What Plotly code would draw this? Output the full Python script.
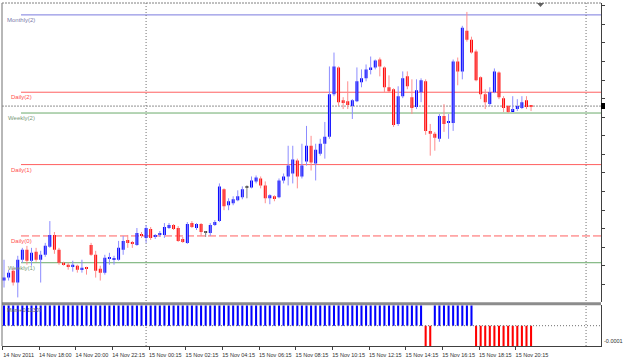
import plotly.graph_objects as go

# ---------------- data (15-minute candles, 14-15 Nov 2011) ----------------
opens = [1.3517, 1.3520, 1.3527, 1.3515, 1.3538, 1.3548, 1.3537, 1.3546, 1.3538, 1.3543,
         1.3551, 1.3563, 1.3548, 1.3535, 1.3533, 1.3531, 1.3532, 1.3528, 1.3530, 1.3553,
         1.3543, 1.3529, 1.3525, 1.3539, 1.3538, 1.3538, 1.3548, 1.3558, 1.3555, 1.3553,
         1.3564, 1.3560, 1.3569, 1.3561, 1.3563, 1.3563, 1.3570, 1.3573, 1.3570, 1.3559,
         1.3555, 1.3575, 1.3570, 1.3574, 1.3565, 1.3565, 1.3573, 1.3577, 1.3609, 1.3593,
         1.3595, 1.3598, 1.3601, 1.3611, 1.3611, 1.3617, 1.3620, 1.3613, 1.3600, 1.3602,
         1.3601, 1.3618, 1.3622, 1.3625, 1.3638, 1.3622, 1.3637, 1.3653, 1.3635, 1.3645,
         1.3655, 1.3662, 1.3705, 1.3732, 1.3699, 1.3698, 1.3693, 1.3698, 1.3717, 1.3721,
         1.3730, 1.3732, 1.3740, 1.3732, 1.3712, 1.3710, 1.3675, 1.3703, 1.3723, 1.3702,
         1.3692, 1.3707, 1.3718, 1.3668, 1.3665, 1.3660, 1.3683, 1.3676, 1.3676, 1.3738,
         1.3728, 1.3769, 1.3760, 1.3748, 1.3722, 1.3705, 1.3695, 1.3707, 1.3727, 1.3701,
         1.3693, 1.3688, 1.3690, 1.3691, 1.3699, 1.3694]
highs = [1.3538, 1.3528, 1.3530, 1.3542, 1.3550, 1.3552, 1.3550, 1.3550, 1.3547, 1.3555,
         1.3577, 1.3566, 1.3550, 1.3536, 1.3535, 1.3537, 1.3533, 1.3538, 1.3531, 1.3555,
         1.3547, 1.3532, 1.3543, 1.3545, 1.3542, 1.3557, 1.3562, 1.3563, 1.3557, 1.3570,
         1.3566, 1.3573, 1.3571, 1.3564, 1.3567, 1.3575, 1.3575, 1.3574, 1.3572, 1.3561,
         1.3576, 1.3577, 1.3575, 1.3575, 1.3567, 1.3575, 1.3578, 1.3615, 1.3610, 1.3600,
         1.3602, 1.3608, 1.3612, 1.3613, 1.3622, 1.3623, 1.3622, 1.3617, 1.3604, 1.3603,
         1.3620, 1.3625, 1.3653, 1.3653, 1.3640, 1.3655, 1.3673, 1.3663, 1.3655, 1.3660,
         1.3677, 1.3733, 1.3747, 1.3733, 1.3702, 1.3718, 1.3700, 1.3732, 1.3730, 1.3735,
         1.3743, 1.3740, 1.3742, 1.3733, 1.3724, 1.3711, 1.3713, 1.3728, 1.3728, 1.3720,
         1.3720, 1.3721, 1.3720, 1.3675, 1.3667, 1.3685, 1.3695, 1.3685, 1.3740, 1.3742,
         1.3774, 1.3788, 1.3763, 1.3750, 1.3723, 1.3710, 1.3712, 1.3731, 1.3728, 1.3703,
         1.3694, 1.3703, 1.3700, 1.3703, 1.3703, 1.3694]
lows = [1.3510, 1.3517, 1.3512, 1.3500, 1.3535, 1.3533, 1.3532, 1.3536, 1.3515, 1.3541,
        1.3550, 1.3544, 1.3533, 1.3532, 1.3528, 1.3526, 1.3525, 1.3525, 1.3523, 1.3542,
        1.3520, 1.3517, 1.3523, 1.3533, 1.3533, 1.3537, 1.3543, 1.3550, 1.3550, 1.3552,
        1.3560, 1.3555, 1.3558, 1.3559, 1.3561, 1.3560, 1.3569, 1.3568, 1.3556, 1.3555,
        1.3554, 1.3570, 1.3568, 1.3562, 1.3561, 1.3562, 1.3572, 1.3576, 1.3588, 1.3588,
        1.3593, 1.3597, 1.3599, 1.3600, 1.3610, 1.3615, 1.3610, 1.3595, 1.3594, 1.3597,
        1.3600, 1.3615, 1.3613, 1.3615, 1.3610, 1.3620, 1.3633, 1.3628, 1.3618, 1.3643,
        1.3640, 1.3660, 1.3703, 1.3693, 1.3690, 1.3690, 1.3680, 1.3697, 1.3712, 1.3718,
        1.3725, 1.3730, 1.3723, 1.3707, 1.3707, 1.3672, 1.3673, 1.3701, 1.3710, 1.3685,
        1.3690, 1.3697, 1.3664, 1.3643, 1.3648, 1.3657, 1.3667, 1.3660, 1.3668, 1.3714,
        1.3720, 1.3758, 1.3746, 1.3718, 1.3700, 1.3690, 1.3693, 1.3706, 1.3700, 1.3687,
        1.3686, 1.3688, 1.3688, 1.3690, 1.3690, 1.3688]
closes = [1.3520, 1.3525, 1.3515, 1.3538, 1.3548, 1.3537, 1.3545, 1.3538, 1.3543, 1.3552,
          1.3563, 1.3548, 1.3535, 1.3533, 1.3531, 1.3533, 1.3528, 1.3530, 1.3529, 1.3543,
          1.3527, 1.3525, 1.3540, 1.3540, 1.3539, 1.3550, 1.3557, 1.3555, 1.3554, 1.3565,
          1.3562, 1.3570, 1.3560, 1.3562, 1.3564, 1.3571, 1.3573, 1.3569, 1.3557, 1.3556,
          1.3574, 1.3571, 1.3574, 1.3566, 1.3565, 1.3573, 1.3576, 1.3612, 1.3592, 1.3597,
          1.3599, 1.3602, 1.3609, 1.3611, 1.3618, 1.3621, 1.3613, 1.3600, 1.3603, 1.3600,
          1.3618, 1.3622, 1.3633, 1.3639, 1.3622, 1.3633, 1.3653, 1.3636, 1.3649, 1.3655,
          1.3662, 1.3705, 1.3733, 1.3697, 1.3696, 1.3694, 1.3699, 1.3718, 1.3721, 1.3730,
          1.3732, 1.3739, 1.3733, 1.3712, 1.3708, 1.3674, 1.3703, 1.3721, 1.3713, 1.3691,
          1.3709, 1.3719, 1.3668, 1.3665, 1.3661, 1.3683, 1.3675, 1.3677, 1.3738, 1.3728,
          1.3772, 1.3760, 1.3747, 1.3719, 1.3705, 1.3697, 1.3707, 1.3728, 1.3702, 1.3691,
          1.3687, 1.3690, 1.3693, 1.3697, 1.3692, 1.3693]

# oscillator sub-window: +1 = up state (blue), -1 = down state (red)
signal = [1, 1, 1, 1, 1, 1, 1, 1, 1, 1, 1, 1, 1, 1, 1, 1, 1, 1, 1, 1,
          1, 1, 1, 1, 1, 1, 1, 1, 1, 1, 1, 1, 1, 1, 1, 1, 1, 1, 1, 1,
          1, 1, 1, 1, 1, 1, 1, 1, 1, 1, 1, 1, 1, 1, 1, 1, 1, 1, 1, 1,
          1, 1, 1, 1, 1, 1, 1, 1, 1, 1, 1, 1, 1, 1, 1, 1, 1, 1, 1, 1,
          1, 1, 1, 1, 1, 1, 1, 1, 1, 1, 1, 1, -1, -1, 1, 1, 1, 1, 1, 1,
          1, 1, 1, -1, -1, -1, -1, -1, -1, -1, -1, -1, -1, -1, -1, -1]
signal_unit = 0.0001

# pivot levels
level_names = ["Monthly(2)", "Daily(2)", "Weekly(2)", "Daily(1)", "Daily(0)", "Weekly(1)"]
level_values = [1.3785, 1.3707, 1.3686, 1.3634, 1.3562, 1.3535]
level_kinds = ["monthly", "daily", "weekly", "daily", "daily", "weekly"]
level_dashed = [False, False, False, False, True, False]

# time axis
tick_index = [0, 8, 16, 24, 32, 40, 48, 56, 64, 72, 80, 88, 96, 104, 112]
tick_labels = ["14 Nov 2011", "14 Nov 18:00", "14 Nov 20:00", "14 Nov 22:15",
               "15 Nov 00:15", "15 Nov 02:15", "15 Nov 04:15", "15 Nov 06:15",
               "15 Nov 08:15", "15 Nov 10:15", "15 Nov 12:15", "15 Nov 14:15",
               "15 Nov 16:15", "15 Nov 18:15", "15 Nov 20:15"]
day_separators = [31, 127]

# ---------------- styles ----------------
BULL, BEAR, DOJI = "#0000ff", "#ff0000", "#404040"
BULL_WICK, BEAR_WICK, DOJI_WICK = "#8c8cff", "#ff8c8c", "#808080"
LEVEL_LINE = {"monthly": "#7b7bdf", "daily": "#ff6060", "weekly": "#6aaa6a"}
LEVEL_TEXT = {"monthly": "#7a7aaa", "daily": "#ff5050", "weekly": "#7a9a7a"}
FONT = "Liberation Sans, Arial, sans-serif"

n = len(opens)
xs = list(range(n))

fig = go.Figure()

# wicks
groups = {"bull": ([], [], BULL_WICK), "bear": ([], [], BEAR_WICK), "doji": ([], [], DOJI_WICK)}
body_base, body_h, body_col = [], [], []
for i in xs:
    o, h, l, c = opens[i], highs[i], lows[i], closes[i]
    kind = "bull" if c > o else ("bear" if c < o else "doji")
    gx, gy, _ = groups[kind]
    gx += [i, i, None]
    gy += [l, h, None]
    body_base.append(min(o, c))
    body_h.append(max(abs(c - o), 0.00011))
    body_col.append({"bull": BULL, "bear": BEAR, "doji": DOJI}[kind])

for kind, (gx, gy, col) in groups.items():
    fig.add_trace(go.Scatter(x=gx, y=gy, mode="lines", line=dict(color=col, width=1),
                             xaxis="x", yaxis="y", hoverinfo="skip", showlegend=False))

fig.add_trace(go.Bar(x=xs, y=body_h, base=body_base, width=0.64,
                     marker=dict(color=body_col, line=dict(width=0)),
                     xaxis="x", yaxis="y", showlegend=False))

# oscillator histogram
fig.add_trace(go.Bar(x=xs, y=[s * signal_unit for s in signal], width=0.45,
                     marker=dict(color=[BULL if s > 0 else BEAR for s in signal], line=dict(width=0)),
                     xaxis="x", yaxis="y2", showlegend=False))

shapes = []
annotations = []

# bid line
last_close = closes[-1]
shapes.append(dict(type="line", xref="paper", yref="y", x0=0, x1=1, y0=last_close, y1=last_close,
                   line=dict(color="#909090", width=1, dash="2px,1px"), layer="below"))

# pivot level lines + labels
LINE_START = 19 / 599
for name, val, kind, dashed in zip(level_names, level_values, level_kinds, level_dashed):
    shapes.append(dict(type="line", xref="paper", yref="y", x0=LINE_START, x1=1, y0=val, y1=val,
                       line=dict(color=LEVEL_LINE[kind], width=1, dash="8px,3px" if dashed else "solid"),
                       layer="below"))
    annotations.append(dict(text=name, xref="paper", yref="y", x=LINE_START, y=val,
                            xanchor="center", yanchor="top", showarrow=False,
                            font=dict(family=FONT, size=6, color=LEVEL_TEXT[kind])))

# period separators
for s in day_separators:
    shapes.append(dict(type="line", xref="x", yref="paper", x0=s, x1=s, y0=0, y1=1,
                       line=dict(color="#707070", width=1, dash="1px,2px"), layer="below"))

# sub window zero line
shapes.append(dict(type="line", xref="paper", yref="y2", x0=0, x1=1, y0=0, y1=0,
                   line=dict(color="#707070", width=1, dash="1px,2px"), layer="above"))

# window separator and frame
shapes.append(dict(type="rect", xref="paper", yref="paper", x0=0, x1=1, y0=0.1185, y1=0.1272,
                   fillcolor="#8c8c8c", line=dict(width=0)))
shapes.append(dict(type="line", xref="paper", yref="paper", x0=0, x1=0, y0=0, y1=1,
                   line=dict(color="#707070", width=1)))
shapes.append(dict(type="line", xref="paper", yref="paper", x0=0, x1=1, y0=1, y1=1,
                   line=dict(color="#808080", width=1, dash="2px,1px")))

# current price marker on price scale
shapes.append(dict(type="rect", xref="paper", yref="y", x0=1.0, x1=1.0 + 4 / 599,
                   y0=last_close - 0.0003, y1=last_close + 0.0003,
                   fillcolor="#000000", line=dict(width=0)))

# chart shift marker
shapes.append(dict(type="path", xref="paper", yref="paper",
                   path="M 0.893 1.0 L 0.905 1.0 L 0.899 0.988 Z",
                   fillcolor="#606060", line=dict(width=0)))

# sub window texts
annotations.append(dict(text="-0.0001", xref="paper", yref="y2", x=1, y=-signal_unit,
                        xanchor="left", yanchor="bottom", xshift=1, showarrow=False,
                        font=dict(family=FONT, size=5.5, color="#303030")))
annotations.append(dict(text="Mam+0.11307", xref="paper", yref="paper", x=0.005, y=0.105,
                        xanchor="left", yanchor="middle", showarrow=False,
                        font=dict(family=FONT, size=5.5, color="#606060")))

fig.update_layout(
    width=625, height=360,
    margin=dict(l=2, r=24, t=3, b=11),
    paper_bgcolor="white", plot_bgcolor="white",
    barmode="overlay", showlegend=False,
    font=dict(family=FONT, size=6, color="#303030"),
    xaxis=dict(domain=[0, 1], range=[-0.44, 130.26], anchor="y2",
               tickmode="array", tickvals=[t - 0.3 for t in tick_index], ticktext=tick_labels,
               ticks="outside", ticklen=3, tickcolor="#404040", ticklabelshift=16,
               tickfont=dict(family=FONT, size=5.5, color="#303030"),
               showgrid=False, zeroline=False, showline=True, linecolor="#404040"),
    yaxis=dict(domain=[0.1272, 1], range=[1.3495, 1.3797], side="right", anchor="x",
               tickmode="linear", tick0=1.34943, dtick=0.001875, ticks="outside", ticklen=3,
               tickcolor="#404040", showticklabels=False,
               showgrid=False, zeroline=False, showline=True, linecolor="#404040"),
    yaxis2=dict(domain=[0, 0.1185], range=[-signal_unit, signal_unit], side="right", anchor="x",
                showticklabels=False, ticks="", showgrid=False, zeroline=False,
                showline=True, linecolor="#404040"),
    shapes=shapes, annotations=annotations,
)

fig.write_html("out.html")
